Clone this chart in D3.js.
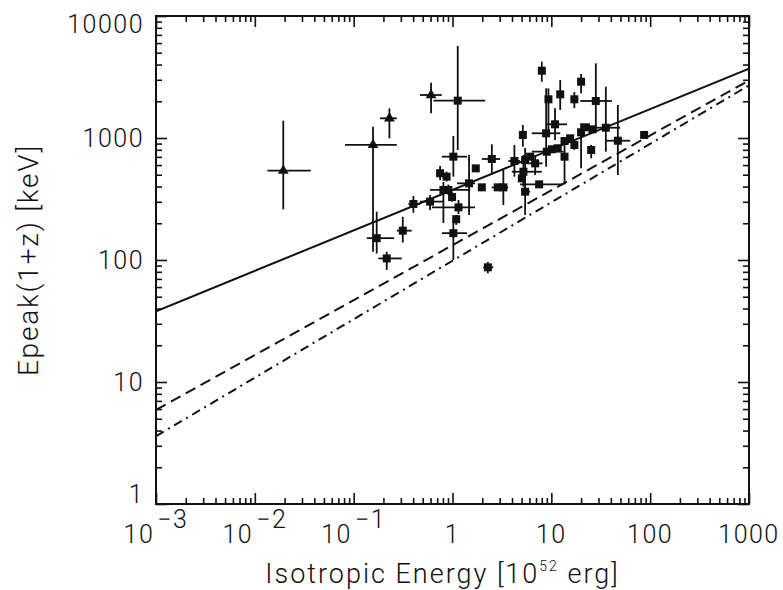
<!DOCTYPE html>
<html>
<head>
<meta charset="utf-8">
<script src="https://cdn.jsdelivr.net/npm/d3@7"></script>
<style>
  body { margin: 0; background: #fff; }
  text { font-family: Roboto, "Liberation Sans", sans-serif; font-weight: 300; fill: #111; }
</style>
</head>
<body>
<div id="chart"></div>
<script>
// reference lines (end points at x = 1e-3 and x = 1e3)
const lineX = [1e-3, 1e3];
const solidY = [38, 3700];
const dashedY = [5.9, 2960];
const dashDotY = [3.6, 2700];

// triangles
const triX   = [0.0194, 0.157, 0.230, 0.607];
const triY   = [540, 877, 1450, 2250];
const triXLo = [0.0134, 0.0818, 0.185, 0.468];
const triXHi = [0.0368, 0.273, 0.273, 0.779];
const triYLo = [260, 117, 995, 1593];
const triYHi = [1387, 1238, 1750, 2840];

// squares (null = no bar)
const sqX   = [1.13, 0.171, 0.216, 0.314, 0.402, 0.593, 0.749, 0.871, 0.809, 0.909, 0.99, 1.02, 1.15, 1.09, 1.02, 1.72, 1.47, 2.50, 1.98, 2.87, 3.27, 4.23, 5.15, 5.43, 6.10, 6.86, 5.22, 5.03, 5.43, 7.53, 8.86, 9.35, 8.01, 12.3, 10.9, 13.6, 9.0, 10.1, 11.6, 13.6, 15.5, 17.1, 17.1, 20.0, 20.0, 22.4, 26.1, 28.2, 25.3, 35.6, 47.1, 86.9, 2.28];
const sqY   = [2023, 151, 103, 174, 288, 301, 514, 482, 375, 375, 328, 703, 270, 216, 166, 564, 425, 673, 394, 394, 394, 648, 1059, 660, 703, 620, 529, 467, 363, 417, 1093, 2076, 3562, 2280, 1295, 703, 772, 808, 824, 945, 994, 877, 2076, 2893, 1114, 1224, 1178, 2011, 797, 1214, 950, 1059, 87.1];
const sqXLo = [0.641, 0.136, 0.178, 0.273, 0.358, 0.470, 0.70, 0.82, 0.593, 0.85, 0.93, 0.78, 0.62, 1.03, 0.78, null, 1.11, 1.98, null, 2.50, 3.03, 3.68, 4.9, 5.2, null, 5.75, 3.98, null, 5.0, 4.83, 6.35, null, 7.5, null, 9.0, null, 6.35, null, null, null, null, null, null, null, null, null, null, 19.6, null, 26.7, 35.1, null, 2.05];
const sqXHi = [2.14, 0.256, 0.307, 0.387, 0.470, 0.803, 0.80, 0.93, 1.51, 0.97, 1.06, 1.40, 1.69, 1.15, 1.40, null, 1.69, 3.03, null, 3.65, 3.65, 4.83, 5.4, 5.7, null, 8.17, 8.01, null, 6.1, 13.3, 12.3, null, 8.6, null, 14.4, null, 13.3, null, null, null, null, null, null, null, null, null, null, 41.0, null, 49.7, 62.8, null, 2.59];
const sqYLo = [797, 113, 82.8, 139, 244, 257, 453, 440, 201, 340, 300, 482, 238, 194, 100, null, 234, 514, null, null, 282, 482, 849, 335, null, 497, 399, null, 234, null, 582, 1025, 2893, 1698, 963, 417, null, null, null, null, null, 800, 1762, 2324, 564, null, null, 1164, 682, 772, 497, null, 77.8];
const sqYHi = [5680, 249, 117, 226, 335, 341, 589, 530, 436, 415, 360, 1038, 310, 234, 206, null, 726, 888, null, null, 547, 877, 1278, 828, null, 726, 726, null, 399, null, 2554, 2554, 4220, 2987, 1750, 877, null, null, null, null, null, 950, 2383, 3349, 1320, null, null, 4095, 877, 2632, 1864, null, 96.3];

// axes
const xMajor = [1e-3, 1e-2, 1e-1, 1, 10, 100, 1000];
const xTickBase = ["10", "10", "10", "1", "10", "100", "1000"];
const xTickExp  = ["\u22123", "\u22122", "\u22121", "", "", "", ""];
const yMajor = [1, 10, 100, 1000, 10000];
const yTickLabels = ["1", "10", "100", "1000", "10000"];

const margin = {top: 16, right: 34, bottom: 86, left: 156};
const width = 783 - margin.left - margin.right;
const height = 590 - margin.top - margin.bottom;

const svg = d3.select("#chart").append("svg")
    .attr("width", 783).attr("height", 590);
const g = svg.append("g").attr("transform", "translate(" + margin.left + "," + margin.top + ")");

const x = d3.scaleLog().domain([1e-3, 1e3]).range([0, width]);
const y = d3.scaleLog().domain([1, 1e4]).range([height, 0]);

function minors(majors) {
    let out = [];
    for (let i = 0; i < majors.length - 1; i++)
        for (let k = 2; k <= 9; k++) out.push(majors[i] * k);
    return out;
}

g.append("clipPath").attr("id", "clip")
    .append("rect").attr("width", width).attr("height", height);

// ticks on all four sides, pointing inwards
function tickAxis(axis, vals, size, transform) {
    let a = g.append("g").attr("transform", transform)
        .call(axis.tickValues(vals).tickSize(size).tickFormat(""));
    a.select(".domain").remove();
    a.selectAll("line").attr("stroke", "#111").attr("stroke-width", 1.6);
}
tickAxis(d3.axisBottom(x), xMajor, -11, "translate(0," + height + ")");
tickAxis(d3.axisBottom(x), minors(xMajor), -6, "translate(0," + height + ")");
tickAxis(d3.axisTop(x), xMajor, -11, "translate(0,0)");
tickAxis(d3.axisTop(x), minors(xMajor), -6, "translate(0,0)");
tickAxis(d3.axisLeft(y), yMajor, -11, "translate(0,0)");
tickAxis(d3.axisLeft(y), minors(yMajor), -6, "translate(0,0)");
tickAxis(d3.axisRight(y), yMajor, -11, "translate(" + width + ",0)");
tickAxis(d3.axisRight(y), minors(yMajor), -6, "translate(" + width + ",0)");

g.append("rect").attr("width", width).attr("height", height)
    .attr("fill", "none").attr("stroke", "#111").attr("stroke-width", 2);

// tick labels
const xl = g.append("g").selectAll("text").data(xMajor).enter().append("text")
    .attr("x", d => x(d)).attr("y", height + 39)
    .attr("text-anchor", "middle")
    .style("font-size", "25px").style("letter-spacing", "1.5px");
xl.append("tspan").text((d, i) => xTickBase[i]);
xl.append("tspan").attr("dy", -15).attr("dx", 3).text((d, i) => xTickExp[i]);

g.append("g").selectAll("text").data(yMajor).enter().append("text")
    .attr("x", -12).attr("y", (d, i) => i === 0 ? height - 1 : (i === yMajor.length - 1 ? 17 : y(d) + 9))
    .attr("text-anchor", "end")
    .style("font-size", "25px").style("letter-spacing", "1.5px")
    .text((d, i) => yTickLabels[i]);

// axis titles
const xt = svg.append("text")
    .attr("x", margin.left + width / 2 - 10).attr("y", 583)
    .attr("text-anchor", "middle")
    .style("font-size", "27px").style("letter-spacing", "2px");
xt.append("tspan").text("Isotropic Energy [10");
xt.append("tspan").attr("dy", -12).style("font-size", "14px").text("52");
xt.append("tspan").attr("dy", 12).text(" erg]");

svg.append("text")
    .attr("transform", "translate(38," + (margin.top + height / 2) + ") rotate(-90)")
    .attr("text-anchor", "middle")
    .style("font-size", "28px").style("letter-spacing", "1.8px")
    .text("Epeak(1+z) [keV]");

// reference lines
const plot = g.append("g").attr("clip-path", "url(#clip)");
const line = d3.line().x(d => x(d[0])).y(d => y(d[1]));
[[solidY, null], [dashedY, "11,6"], [dashDotY, "9,5,2,5"]].forEach(function(s) {
    plot.append("path")
        .attr("d", line(lineX.map((v, i) => [v, s[0][i]])))
        .attr("fill", "none").attr("stroke", "#111").attr("stroke-width", 2)
        .attr("stroke-dasharray", s[1]);
});

// error bars
function errorBars(xs, ys, xlo, xhi, ylo, yhi) {
    xs.forEach(function(v, i) {
        if (xlo[i] !== null)
            plot.append("line").attr("x1", x(xlo[i])).attr("x2", x(xhi[i]))
                .attr("y1", y(ys[i])).attr("y2", y(ys[i]))
                .attr("stroke", "#111").attr("stroke-width", 1.8);
        if (ylo[i] !== null)
            plot.append("line").attr("x1", x(v)).attr("x2", x(v))
                .attr("y1", y(ylo[i])).attr("y2", y(yhi[i]))
                .attr("stroke", "#111").attr("stroke-width", 1.8);
    });
}
errorBars(sqX, sqY, sqXLo, sqXHi, sqYLo, sqYHi);
errorBars(triX, triY, triXLo, triXHi, triYLo, triYHi);

let size = 8;
plot.selectAll(".sq").data(sqX).enter().append("rect").attr("class", "sq")
    .attr("x", d => x(d) - size / 2).attr("y", (d, i) => y(sqY[i]) - size / 2)
    .attr("width", size).attr("height", size).attr("fill", "#111");

const tri = d3.symbol().type(d3.symbolTriangle).size(50);
plot.selectAll(".tri").data(triX).enter().append("path").attr("class", "tri")
    .attr("d", tri)
    .attr("transform", (d, i) => "translate(" + x(d) + "," + y(triY[i]) + ")")
    .attr("fill", "#111");
</script>
</body>
</html>
